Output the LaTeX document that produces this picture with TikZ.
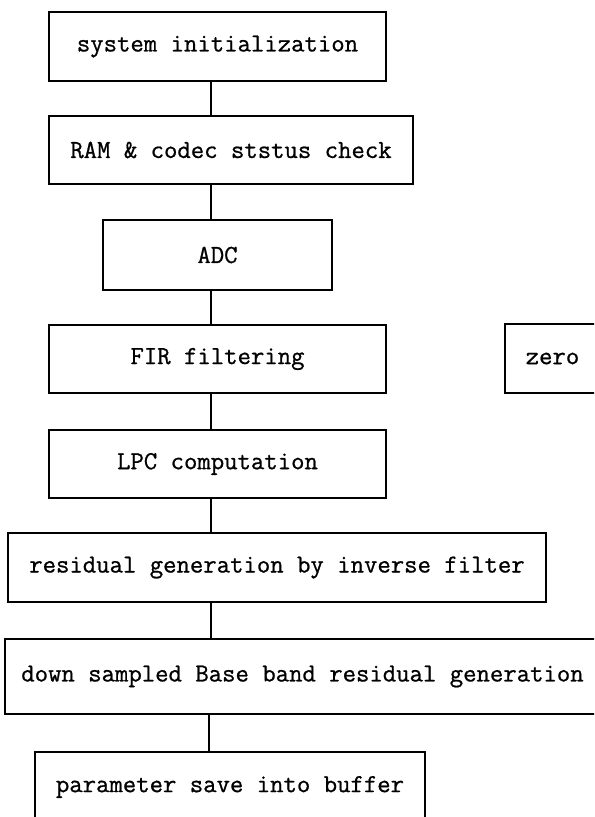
\documentclass[tikz,border=0pt]{standalone}
\usepackage{fontspec}
\newfontfamily\stagefont{Latin Modern Mono}[FakeBold=0.8]
\begin{document}
\begin{tikzpicture}[x=0.75pt,y=-0.75pt,
  stage/.style={draw, line width=0.9pt, inner sep=0pt, align=center,
    font=\stagefont\fontsize{19.5}{22}\selectfont},
  sz/.style 2 args={minimum width=#1*0.75pt, minimum height=#2*0.75pt},
  link/.style={line width=0.9pt}]
\useasboundingbox (0,0) rectangle (594,817);
\clip (0,0) rectangle (594,817);

% processing stages
\node[stage, sz={337}{69}] (init)  at (217.5,46.5) {system initialization};
\node[stage, sz={364}{68}] (check) at (231,150)    {RAM \& codec ststus check};
\node[stage, sz={229}{70}] (adc)   at (217.5,255)  {ADC};
\node[stage, sz={337}{68}] (fir)   at (217.5,359)  {FIR filtering};
\node[stage, sz={95}{69}]  (zero)  at (552.5,358.5){zero};
\node[stage, sz={337}{68}] (lpc)   at (217.5,464)  {LPC computation};
\node[stage, sz={538}{69}] (resid) at (277,567.5)  {residual generation by inverse filter};
\node[stage, sz={595}{75}] (down)  at (302.5,676.5){down sampled Base band residual generation};
\node[stage, sz={390}{70}] (save)  at (230,787)    {parameter save into buffer};

% the flow runs down a common vertical line
\coordinate (spine) at (211,0);
\coordinate (spineb) at (209,0);
\draw[link] (init.south -| spine)  -- (check.north -| spine);
\draw[link] (check.south -| spine) -- (adc.north -| spine);
\draw[link] (adc.south -| spine)   -- (fir.north -| spine);
\draw[link] (fir.south -| spine)   -- (lpc.north -| spine);
\draw[link] (lpc.south -| spine)   -- (resid.north -| spine);
\draw[link] (resid.south -| spine) -- (down.north -| spine);
\draw[link] (down.south -| spineb) -- (save.north -| spineb);
\end{tikzpicture}
\end{document}
